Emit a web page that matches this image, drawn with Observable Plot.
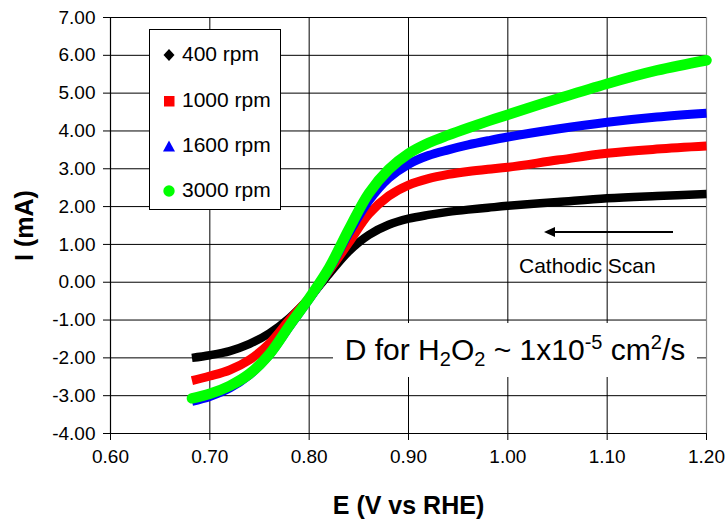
<!DOCTYPE html>
<html>
<head>
<meta charset="utf-8">
<script src="https://cdn.jsdelivr.net/npm/d3@7"></script>
<script src="https://cdn.jsdelivr.net/npm/@observablehq/plot@0.6"></script>
<style>
  html, body { margin: 0; padding: 0; background: #fff; }
  #wrap { position: relative; width: 727px; height: 522px; font-family: "Liberation Sans", Arial, sans-serif; }
  #wrap svg { display: block; }
  .ov { position: absolute; color: #000; font-family: "Liberation Sans", Arial, sans-serif; }
  .legend { left: 149px; top: 29px; width: 132px; height: 181px; border: 1px solid #000; background: #fff; box-sizing: border-box; }
  .legend .row { position: absolute; left: 0; font-size: 21px; line-height: 1; }
  .legend .row svg { position: absolute; left: 12px; top: -6px; }
  .legend .row span { position: absolute; left: 32px; top: -11px; white-space: nowrap; }
  .note { left: 333px; top: 323px; width: 364px; height: 54px; background: #fff; font-size: 30px; text-align: center; white-space: nowrap; }
  .note span.t { display: inline-block; line-height: 54px; }
  .note sub { font-size: 20px; line-height: 0; vertical-align: -6px; }
  .note sup { font-size: 20px; line-height: 0; vertical-align: 11px; }
  .scan { left: 519px; top: 254px; font-size: 21px; white-space: nowrap; }
</style>
</head>
<body>
<div id="wrap"></div>
<script>
// Potential (V vs RHE)
const E = [0.682, 0.70, 0.72, 0.74, 0.76, 0.78, 0.80, 0.82, 0.84, 0.86, 0.88, 0.90, 0.92, 0.94, 0.96, 0.98, 1.00, 1.05, 1.10, 1.15, 1.20];
// Current (mA) for each rotation rate
const I400  = [-2.00, -1.93, -1.82, -1.63, -1.35, -0.95, -0.42, 0.22, 0.82, 1.25, 1.52, 1.68, 1.78, 1.86, 1.92, 1.97, 2.02, 2.12, 2.22, 2.28, 2.33];
const I1000 = [-2.60, -2.48, -2.32, -2.05, -1.62, -1.00, -0.42, 0.30, 1.05, 1.80, 2.28, 2.57, 2.74, 2.85, 2.93, 2.99, 3.04, 3.23, 3.41, 3.52, 3.60];
const I1600 = [-3.15, -3.02, -2.80, -2.45, -1.92, -1.18, -0.45, 0.33, 1.30, 2.15, 2.75, 3.12, 3.35, 3.50, 3.63, 3.74, 3.84, 4.05, 4.23, 4.37, 4.47];
const I3000 = [-3.07, -2.95, -2.74, -2.42, -1.90, -1.15, -0.42, 0.38, 1.40, 2.35, 2.98, 3.40, 3.68, 3.89, 4.08, 4.26, 4.43, 4.85, 5.25, 5.60, 5.87];

const seriesNames = ["400 rpm", "1000 rpm", "1600 rpm", "3000 rpm"];
const seriesColors = ["#000000", "#ff0000", "#0000ff", "#00ff00"];
const seriesValues = [I400, I1000, I1600, I3000];
const seriesWidths = [8.5, 9, 9, 10.5];

const xTicks = [0.60, 0.70, 0.80, 0.90, 1.00, 1.10, 1.20];
const yTicks = [-4, -3, -2, -1, 0, 1, 2, 3, 4, 5, 6, 7];

const xLabel = "E (V vs RHE)";
const yLabel = "I (mA)";

const rows = [];
seriesValues.forEach((vals, s) => vals.forEach((v, i) => rows.push({E: E[i], I: v, s: seriesNames[s]})));

const lineMarks = seriesNames.map((name, s) =>
  Plot.line(rows.filter(d => d.s === name), {
    x: "E", y: "I", stroke: seriesColors[s], strokeWidth: seriesWidths[s],
    curve: "catmull-rom", strokeLinecap: s === 3 ? "round" : "butt", strokeLinejoin: "round"
  })
);

const chart = Plot.plot({
  width: 727,
  height: 522,
  marginLeft: 110,
  marginRight: 21,
  marginTop: 17,
  marginBottom: 89,
  style: { fontFamily: "'Liberation Sans', Arial, sans-serif", fontSize: "19px", color: "#000", background: "#fff" },
  x: { domain: [0.6, 1.2], ticks: xTicks, tickFormat: d => d.toFixed(2), tickSize: 7, tickPadding: 9, label: null },
  y: { domain: [-4, 7], ticks: yTicks, tickFormat: d => d.toFixed(2), tickSize: 7, tickPadding: 8, label: null },
  marks: [
    Plot.ruleX(xTicks.slice(1, -1), { stroke: "#000", strokeWidth: 1 }),
    Plot.ruleX(xTicks.slice(-1), { stroke: "#888", strokeWidth: 1.2 }),
    Plot.ruleY(yTicks.slice(1), { stroke: "#000", strokeWidth: 1 }),
    ...lineMarks,
    Plot.ruleX(xTicks.slice(0, 1), { stroke: "#000", strokeWidth: 1.2 }),
    Plot.ruleY(yTicks.slice(0, 1), { stroke: "#000", strokeWidth: 1.2 }),
    Plot.text([yLabel], { frameAnchor: "left", dx: -86, rotate: -90, fontWeight: "bold", fontSize: 25, textAnchor: "middle" }),
    Plot.text([xLabel], { frameAnchor: "bottom", dy: 72, fontWeight: "bold", fontSize: 25, lineAnchor: "middle" })
  ]
});

const wrap = document.getElementById("wrap");
wrap.appendChild(chart);

// Legend (overlay)
const legend = document.createElement("div");
legend.className = "ov legend";
const rowTops = [24, 70, 115, 160];
const symbols = [
  '<svg width="14" height="14"><polygon points="7,1 12.5,7 7,13 1.5,7" fill="#000"/></svg>',
  '<svg width="14" height="14"><rect x="2" y="2" width="10.5" height="10.5" fill="#ff0000"/></svg>',
  '<svg width="14" height="14"><polygon points="7,1.5 13,12.5 1,12.5" fill="#0000ff"/></svg>',
  '<svg width="14" height="14"><circle cx="7" cy="7" r="5.7" fill="#00ff00"/></svg>'
];
seriesNames.forEach((name, i) => {
  const r = document.createElement("div");
  r.className = "row";
  r.style.top = rowTops[i] + "px";
  r.innerHTML = symbols[i] + "<span>" + name + "</span>";
  legend.appendChild(r);
});
wrap.appendChild(legend);

// Diffusion note
const note = document.createElement("div");
note.className = "ov note";
note.innerHTML = '<span class="t">D for H<sub>2</sub>O<sub>2</sub> ~ 1x10<sup>-5</sup> cm<sup>2</sup>/s</span>';
wrap.appendChild(note);

// Arrow + Cathodic Scan
const arr = document.createElementNS("http://www.w3.org/2000/svg", "svg");
arr.setAttribute("width", "140");
arr.setAttribute("height", "20");
arr.style.position = "absolute";
arr.style.left = "540px";
arr.style.top = "222px";
arr.innerHTML = '<line x1="12" y1="10" x2="133" y2="10" stroke="#000" stroke-width="2"/><polygon points="4,10 15,5 15,15" fill="#000"/>';
wrap.appendChild(arr);

const scan = document.createElement("div");
scan.className = "ov scan";
scan.textContent = "Cathodic Scan";
wrap.appendChild(scan);
</script>
</body>
</html>
